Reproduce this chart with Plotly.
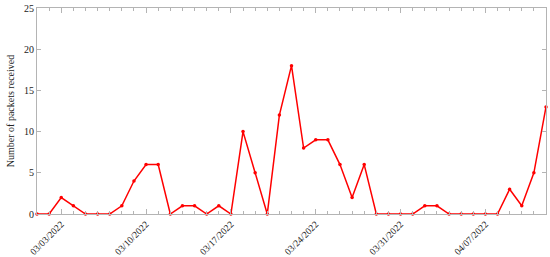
import plotly.graph_objects as go
import pandas as pd

dates = pd.date_range("2022-03-01", "2022-04-12", freq="D").strftime("%Y-%m-%d").tolist()
packets = [0, 0, 2, 1, 0, 0, 0, 1, 4, 6,
           6, 0, 1, 1, 0, 1, 0, 10, 5, 0,
           12, 18, 8, 9, 9, 6, 2, 6, 0, 0,
           0, 0, 1, 1, 0, 0, 0, 0, 0, 3,
           1, 5, 13]
y_title = "Number of packets received"

fig = go.Figure()
fig.add_trace(go.Scatter(
    x=dates, y=packets, mode="lines+markers",
    line=dict(color="#ff0000", width=1.5),
    marker=dict(color="#ff0000", size=3.5),
    showlegend=False, cliponaxis=False,
))

axis_col = "#b4b4b4"
fig.update_layout(
    width=550, height=257,
    margin=dict(l=37, r=4, t=8, b=43),
    paper_bgcolor="white", plot_bgcolor="white",
    font=dict(family="Liberation Serif", size=10, color="#222222"),
)
fig.update_xaxes(
    type="date", automargin=False,
    range=["2022-03-01", "2022-04-12"],
    tick0="2022-03-03", dtick=7 * 86400000,
    tickformat="%m/%d/%Y", tickangle=-45,
    ticks="inside", ticklen=5, tickcolor=axis_col,
    minor=dict(dtick=86400000, tick0="2022-03-03", ticks="inside", ticklen=3, tickcolor=axis_col),
    showline=True, linecolor=axis_col, linewidth=1, mirror="ticks",
    showgrid=False, zeroline=False,
    tickfont=dict(size=9.5, family="Liberation Serif"),
)
fig.update_yaxes(
    automargin=False,
    range=[0, 25], dtick=5,
    ticks="inside", ticklen=4, tickcolor=axis_col,
    showline=True, linecolor=axis_col, linewidth=1, mirror="ticks",
    showgrid=False, zeroline=False,
    title=dict(text=y_title, font=dict(size=10, family="Liberation Serif"), standoff=7),
    tickfont=dict(size=10, family="Liberation Serif"),
)
fig.write_html(
    "out.html",
    config={"displayModeBar": False},
    post_script="document.body.style.margin='0';document.body.style.overflow='hidden';",
)
